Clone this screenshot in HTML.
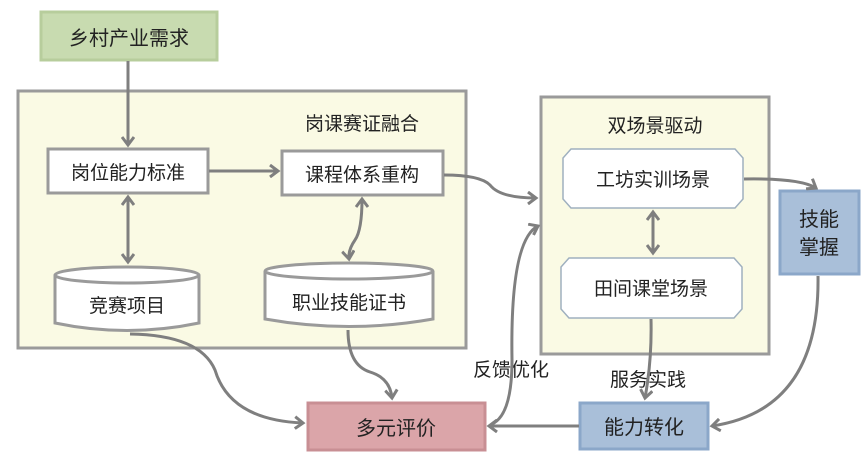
<!DOCTYPE html>
<html><head><meta charset="utf-8"><style>
body{margin:0;background:#fff;}
svg text{font-family:"Liberation Sans","Noto Sans CJK SC",sans-serif;fill:#222;}
</style></head><body>
<svg width="864" height="464" viewBox="0 0 864 464" xmlns="http://www.w3.org/2000/svg">
<defs>
<marker id="a" markerWidth="14" markerHeight="14" refX="10" refY="7" orient="auto" markerUnits="userSpaceOnUse">
<path d="M2,1 L10,7 L2,13" fill="none" stroke="#7f7f7f" stroke-width="3"/></marker>
<marker id="s" markerWidth="14" markerHeight="14" refX="4" refY="7" orient="auto" markerUnits="userSpaceOnUse">
<path d="M12,1 L4,7 L12,13" fill="none" stroke="#7f7f7f" stroke-width="3"/></marker>
</defs>
<!-- containers -->
<rect x="18" y="91" width="448" height="257" fill="#fafae4" stroke="#9a9a9a" stroke-width="3"/>
<rect x="541" y="97" width="228" height="257" fill="#fafae4" stroke="#9a9a9a" stroke-width="3"/>
<!-- top -->
<rect x="41" y="12" width="176" height="48" fill="#c8dbb0" stroke="#b7cd9c" stroke-width="3"/>
<text x="129" y="45" font-size="20" text-anchor="middle">乡村产业需求</text>
<text x="362" y="130" font-size="19" text-anchor="middle">岗课赛证融合</text>
<text x="655" y="132" font-size="19" text-anchor="middle">双场景驱动</text>
<!-- boxes -->
<rect x="48" y="149" width="160" height="44" fill="#fff" stroke="#9a9a9a" stroke-width="3"/>
<text x="128" y="179" font-size="19" text-anchor="middle">岗位能力标准</text>
<rect x="282" y="151" width="161" height="44" fill="#fff" stroke="#9a9a9a" stroke-width="3"/>
<text x="362" y="181" font-size="19" text-anchor="middle">课程体系重构</text>
<!-- cylinders -->
<path d="M55,275 L55,323 Q127,338 199,323 L199,275" fill="#fff" stroke="#9a9a9a" stroke-width="3"/>
<ellipse cx="127" cy="275" rx="72" ry="8" fill="#fff" stroke="#9a9a9a" stroke-width="3"/>
<text x="127" y="312" font-size="19" text-anchor="middle">竞赛项目</text>
<path d="M265,271 L265,319 Q349,334 433,319 L433,271" fill="#fff" stroke="#9a9a9a" stroke-width="3"/>
<ellipse cx="349" cy="271" rx="84" ry="8" fill="#fff" stroke="#9a9a9a" stroke-width="3"/>
<text x="349" y="309" font-size="19" text-anchor="middle">职业技能证书</text>
<!-- scene boxes -->
<path d="M571,149 H735 L743,158 V199 L735,208 H571 L563,199 V158 Z" fill="#fff" stroke="#9fb0bf" stroke-width="1.5"/>
<text x="653" y="186" font-size="19" text-anchor="middle">工坊实训场景</text>
<path d="M569,258 H734 L742,267 V309 L734,318 H569 L561,309 V267 Z" fill="#fff" stroke="#9fb0bf" stroke-width="1.5"/>
<text x="651" y="295" font-size="19" text-anchor="middle">田间课堂场景</text>
<!-- right boxes -->
<rect x="780" y="191" width="79" height="83" fill="#a9bfd9" stroke="#8ba7c9" stroke-width="3"/>
<text x="819" y="226" font-size="20" text-anchor="middle">技能</text>
<text x="819" y="254" font-size="20" text-anchor="middle">掌握</text>
<rect x="580" y="403" width="128" height="46" fill="#a9bfd9" stroke="#8ba7c9" stroke-width="3"/>
<text x="644" y="434" font-size="20" text-anchor="middle">能力转化</text>
<rect x="308" y="403" width="177" height="47" fill="#dba5a9" stroke="#c88f94" stroke-width="3"/>
<text x="396" y="435" font-size="20" text-anchor="middle">多元评价</text>
<text x="511" y="376" font-size="19" text-anchor="middle">反馈优化</text>
<text x="648" y="386" font-size="19" text-anchor="middle">服务实践</text>
<!-- connectors -->
<g fill="none" stroke="#7f7f7f" stroke-width="3">
<path d="M128,61 V145" marker-end="url(#a)"/>
<path d="M209,171 H278" marker-end="url(#a)"/>
<path d="M128,197 V262" marker-end="url(#a)" marker-start="url(#s)"/>
<path d="M362,199 Q362,230 355,240 Q348,250 349,259" marker-end="url(#a)" marker-start="url(#s)"/>
<path d="M444,175 Q480,175 490,185 Q500,198 536,198" marker-end="url(#a)"/>
<path d="M653,212 V253" marker-end="url(#a)" marker-start="url(#s)"/>
<path d="M744,179 Q800,178 816,188" marker-end="url(#a)"/>
<path d="M130,334 Q200,335 215,370 Q230,420 303,423" marker-end="url(#a)"/>
<path d="M348,330 Q348,365 370,372 Q390,378 392,398" marker-end="url(#a)"/>
<path d="M651,319 Q652,360 645,398" marker-end="url(#a)"/>
<path d="M818,276 Q820,410 712,426" marker-end="url(#a)"/>
<path d="M579,426 H489" marker-end="url(#a)"/>
<path d="M492,424 Q512,415 512,360 Q510,240 538,226" marker-end="url(#a)"/>
</g>
</svg>
</body></html>
